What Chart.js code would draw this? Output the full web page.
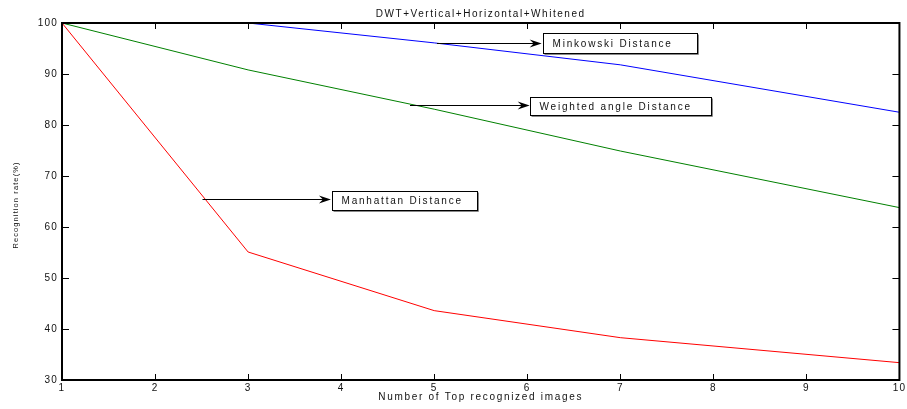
<!DOCTYPE html>
<html>
<head>
<meta charset="utf-8">
<script src="https://cdn.jsdelivr.net/npm/chart.js@4.4.1/dist/chart.umd.min.js"></script>
<style>
  html, body { margin: 0; padding: 0; background: #fff; }
</style>
</head>
<body>
<canvas id="myChart" width="907" height="409"></canvas>
<script>
// Datos del gráfico
const valoresX = [1, 3, 5, 7, 10];
const minkowski = [100, 100, 96.1, 91.8, 82.5];
const ponderado = [100, 90.8, 83.1, 74.9, 63.8];
const manhattan = [100, 55.1, 43.6, 38.3, 33.4];

const titulo = 'DWT+Vertical+Horizontal+Whitened';
const tituloX = 'Number of Top recognized images';
const tituloY = 'Recognition rate(%)';

// Notas con flecha (en coordenadas de datos)
const notaTextos = ['Minkowski Distance', 'Weighted angle Distance', 'Manhattan Distance'];
const notaCola = [[5.03, 96.1], [4.74, 83.9], [2.51, 65.5]];
const notaPunta = [6.155, 6.026, 3.89];
const notaCaja = [[6.166, 7.82, 98.0, 94.1], [6.026, 7.98, 85.49, 81.96], [3.90, 5.46, 67.0, 63.3]];

const ctx = document.getElementById('myChart');
const fuente = 'Liberation Sans, Arial, sans-serif';

function puntos(valores) {
  return valores.map((v, i) => ({ x: valoresX[i], y: v }));
}

function texto(c, t, x, y, tam, espacio, alinear) {
  c.font = tam + 'px ' + fuente;
  c.letterSpacing = espacio + 'px';
  c.textAlign = alinear;
  c.textBaseline = 'middle';
  c.fillStyle = '#111';
  c.fillText(t, x, y);
}

/* Marco, marcas, títulos y notas */
const marcoPlugin = {
  id: 'marco',
  beforeDraw(chart) {
    chart.ctx.letterSpacing = '1.2px';
  },
  afterDraw(chart) {
    const c = chart.ctx;
    const a = chart.chartArea;
    const sx = chart.scales.x;
    const sy = chart.scales.y;
    c.save();
    c.strokeStyle = '#000';
    c.lineWidth = 2;
    c.strokeRect(a.left, a.top, a.right - a.left, a.bottom - a.top);

    // marcas hacia dentro en los cuatro lados
    c.lineWidth = 1;
    c.beginPath();
    sx.ticks.forEach(t => {
      let px = Math.round(sx.getPixelForValue(t.value)) + 0.5;
      c.moveTo(px, a.bottom); c.lineTo(px, a.bottom - 6);
      c.moveTo(px, a.top); c.lineTo(px, a.top + 6);
    });
    sy.ticks.forEach(t => {
      let py = Math.round(sy.getPixelForValue(t.value)) + 0.5;
      c.moveTo(a.left, py); c.lineTo(a.left + 7, py);
      c.moveTo(a.right, py); c.lineTo(a.right - 7, py);
    });
    c.stroke();

    // notas
    notaTextos.forEach((t, i) => {
      let x0 = sx.getPixelForValue(notaCola[i][0]);
      let y0 = Math.round(sy.getPixelForValue(notaCola[i][1])) + 0.5;
      let x1 = sx.getPixelForValue(notaPunta[i]);
      c.strokeStyle = '#000';
      c.beginPath();
      c.moveTo(x0, y0); c.lineTo(x1 - 6, y0);
      c.stroke();
      c.fillStyle = '#000';
      c.beginPath();
      c.moveTo(x1, y0);
      c.lineTo(x1 - 12, y0 - 4);
      c.lineTo(x1 - 8, y0);
      c.lineTo(x1 - 12, y0 + 4);
      c.closePath();
      c.fill();

      let bl = Math.round(sx.getPixelForValue(notaCaja[i][0])) + 0.5;
      let br = Math.round(sx.getPixelForValue(notaCaja[i][1])) + 0.5;
      let bt = Math.round(sy.getPixelForValue(notaCaja[i][2])) + 0.5;
      let bb = Math.round(sy.getPixelForValue(notaCaja[i][3])) + 0.5;
      c.fillStyle = '#fff';
      c.fillRect(bl, bt, br - bl, bb - bt);
      c.strokeStyle = '#888';
      c.beginPath();
      c.moveTo(bl + 1, bb + 1); c.lineTo(br + 1, bb + 1); c.lineTo(br + 1, bt + 1);
      c.stroke();
      c.strokeStyle = '#000';
      c.strokeRect(bl, bt, br - bl, bb - bt);
      texto(c, t, bl + 9, (bt + bb) / 2 + 0.5, 10, 1.8, 'left');
    });

    // títulos
    texto(c, titulo, (a.left + a.right) / 2, 14, 10, 1.55, 'center');
    texto(c, tituloX, (a.left + a.right) / 2, 397, 10, 1.7, 'center');
    c.translate(16, 205);
    c.rotate(-Math.PI / 2);
    texto(c, tituloY, 0, 0, 7.5, 1.1, 'center');
    c.restore();
  }
};

const config = {
  type: 'line',
  data: {
    datasets: [
      { label: 'Minkowski Distance', data: puntos(minkowski), borderColor: '#0000ff', borderWidth: 1, pointRadius: 0, fill: false },
      { label: 'Weighted angle Distance', data: puntos(ponderado), borderColor: '#008000', borderWidth: 1, pointRadius: 0, fill: false },
      { label: 'Manhattan Distance', data: puntos(manhattan), borderColor: '#ff0000', borderWidth: 1, pointRadius: 0, fill: false }
    ]
  },
  options: {
    responsive: false,
    animation: false,
    devicePixelRatio: 1,
    layout: { padding: { left: 0, right: 7, top: 23, bottom: 0 } },
    plugins: {
      legend: { display: false },
      tooltip: { enabled: false },
      title: { display: false }
    },
    scales: {
      x: {
        type: 'linear',
        min: 1,
        max: 10,
        grid: { display: false, drawTicks: false },
        border: { display: false },
        ticks: { stepSize: 1, color: '#111', padding: 2, font: { family: fuente, size: 10 }, maxRotation: 0 },
        afterFit: s => { s.height = 29; }
      },
      y: {
        min: 30,
        max: 100,
        grid: { display: false, drawTicks: false },
        border: { display: false },
        ticks: { stepSize: 10, color: '#111', padding: 4, font: { family: fuente, size: 10 } },
        afterFit: s => { s.width = 62; }
      }
    }
  },
  plugins: [marcoPlugin]
};

new Chart(ctx, config);
</script>
</body>
</html>
